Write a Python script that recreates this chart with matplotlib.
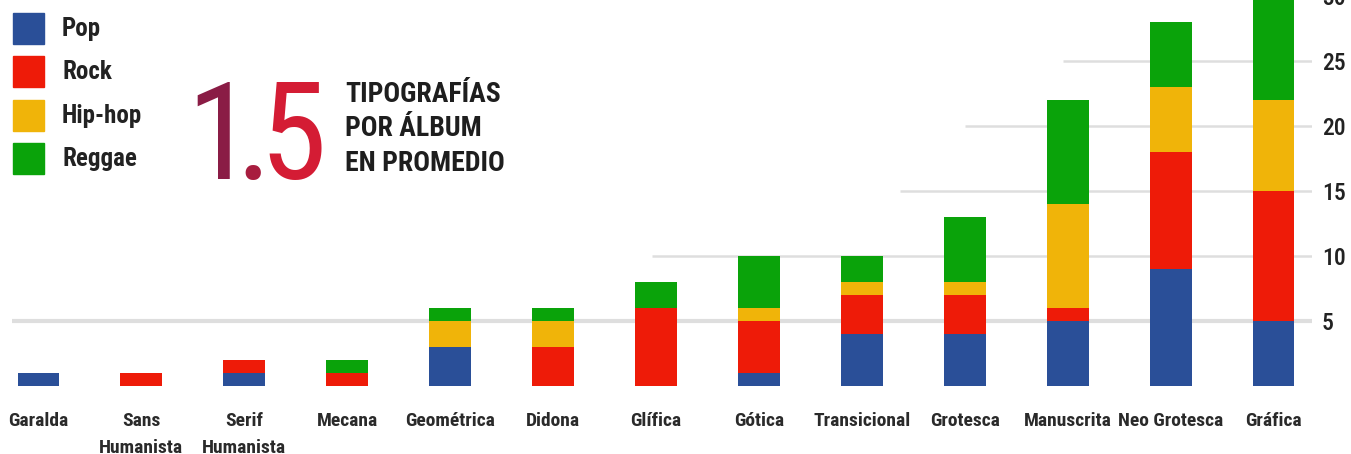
import matplotlib.pyplot as plt
from matplotlib.patches import Rectangle
import numpy as np
import logging

logging.getLogger("matplotlib.font_manager").setLevel(logging.ERROR)

# data
categories = ["Garalda", "Sans\nHumanista", "Serif\nHumanista", "Mecana", "Geométrica",
              "Didona", "Glífica", "Gótica", "Transicional", "Grotesca",
              "Manuscrita", "Neo Grotesca", "Gráfica"]
genres = ["Pop", "Rock", "Hip-hop", "Reggae"]
pop = [1, 0, 1, 0, 3, 0, 0, 1, 4, 4, 5, 9, 5]
rock = [0, 1, 1, 1, 0, 3, 6, 4, 3, 3, 1, 9, 10]
hiphop = [0, 0, 0, 0, 2, 2, 0, 1, 1, 1, 8, 5, 7]
reggae = [0, 0, 0, 1, 1, 1, 2, 4, 2, 5, 8, 5, 8]
y_ticks = [5, 10, 15, 20, 25, 30]
# where each gridline begins (in category units)
grid_start = [-0.25, 5.96, 8.37, 9.0, 9.95, 10.3]

colors = {"Pop": "#2a4f98", "Rock": "#ee1b08", "Hip-hop": "#f0b409", "Reggae": "#0aa30a"}
FONT = ["Roboto Condensed", "Oswald", "IBM Plex Sans Condensed", "DejaVu Sans"]

W, H = 1351, 454
fig = plt.figure(figsize=(W / 100, H / 100), dpi=100)
# axes placed in pixel terms: baseline at y=386, 13 px per unit
x_left, x_right = -0.37, 12.37
ax = fig.add_axes([0, (H - 386) / H, 1312 / W, 390 / H])
ax.set_xlim(x_left, x_right)
ax.set_ylim(0, 30)

x = np.arange(len(categories))
for yv, xs in zip(y_ticks, grid_start):
    ax.plot([xs, x_right], [yv, yv], color="#dedede",
            lw=3 if yv == 5 else 1.8, zorder=0, solid_capstyle="butt")

bottom = np.zeros(len(categories))
for name, vals in zip(genres, [pop, rock, hiphop, reggae]):
    ax.bar(x, vals, width=0.4, bottom=bottom, color=colors[name], label=name, zorder=2)
    bottom += np.array(vals)

for s in ax.spines.values():
    s.set_visible(False)

ax.yaxis.tick_right()
ax.set_yticks(y_ticks)
ax.set_yticklabels([str(v) for v in y_ticks], family=FONT, fontsize=17,
                   fontweight="medium", color="#222222")
ax.tick_params(axis="y", length=0, pad=7)

ax.set_xticks(x)
ax.set_xticklabels(categories, family=FONT, fontsize=14, fontweight="bold",
                   color="#2a2a2a", linespacing=1.65)
ax.tick_params(axis="x", length=0, pad=19)

# legend drawn by hand: 31 px squares, 43 px apart
for i, name in enumerate(genres):
    top = 13 + 43.3 * i
    fig.patches.append(Rectangle((13 / W, 1 - (top + 31) / H), 31 / W, 31 / H,
                                 transform=fig.transFigure, color=colors[name]))
    fig.text(62 / W, 1 - (top + 16) / H, name, family=FONT, fontsize=18,
             fontweight="bold", color="#222222", va="center", ha="left")

# big number
big = dict(fontsize=98, family=FONT, fontweight="normal", va="baseline", ha="center")
fig.text(220 / W, 1 - 179 / H, "1", color="#8a1c45", **big)
fig.text(253 / W, 1 - 179 / H, ".", color="#a81d3f", **big)
fig.text(293 / W, 1 - 179 / H, "5", color="#d41c34", **big)

fig.text(345 / W, 1 - 81 / H, "TIPOGRAFÍAS\nPOR ÁLBUM\nEN PROMEDIO", family=FONT,
         fontsize=20, fontweight="bold", color="#1e1e1e", va="top", ha="left",
         linespacing=1.35)

fig.savefig("out.png", dpi=100)
